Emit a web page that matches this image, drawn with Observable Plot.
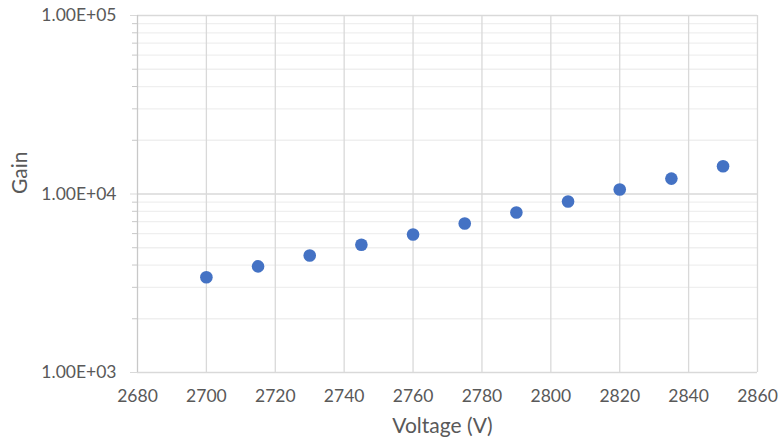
<!DOCTYPE html>
<html><head><meta charset="utf-8">
<script src="https://cdn.jsdelivr.net/npm/d3@7"></script>
<script src="https://cdn.jsdelivr.net/npm/@observablehq/plot@0.6"></script>
<style>body{margin:0;background:#fff;}</style>
</head><body><div id="chart"></div>
<script>
const voltages = [2700, 2715, 2730, 2745, 2760, 2775, 2790, 2805, 2820, 2835, 2850];
const gains = [3420, 3930, 4520, 5200, 5930, 6830, 7880, 9080, 10600, 12200, 14300];
const xTicks = [2680, 2700, 2720, 2740, 2760, 2780, 2800, 2820, 2840, 2860];
const yMajor = [1e3, 1e4, 1e5];
const yMinor = [2e3, 3e3, 4e3, 5e3, 6e3, 7e3, 8e3, 9e3, 2e4, 3e4, 4e4, 5e4, 6e4, 7e4, 8e4, 9e4];

const fmt = d => {
  const [m, e] = d.toExponential(2).split("e");
  const sign = e[0] === "-" ? "-" : "+";
  return m + "E" + sign + String(Math.abs(+e)).padStart(2, "0");
};
const data = voltages.map((v, i) => ({v, g: gains[i]}));
const textColor = "#595959";

const chart = Plot.plot({
  width: 780, height: 446,
  marginLeft: 137, marginRight: 23, marginTop: 15, marginBottom: 74,
  style: {fontFamily: "Lato, 'Open Sans', sans-serif", fontSize: "17.5px", color: textColor, background: "#fff"},
  x: {domain: [2680, 2860]},
  y: {type: "log", domain: [1e3, 1e5]},
  marks: [
    Plot.ruleY(yMinor, {stroke: "#efefef", strokeWidth: 1.3}),
    Plot.ruleX(xTicks.slice(1), {stroke: "#d9d9d9", strokeWidth: 1.3}),
    Plot.ruleY(yMajor, {stroke: "#d9d9d9", strokeWidth: 1.3}),
    Plot.ruleX([2680], {stroke: "#c8c8c8", strokeWidth: 1.3}),
    Plot.axisY({ticks: yMinor, tickSize: 5, text: null, stroke: "#c8c8c8", label: null}),
    Plot.axisY({ticks: yMajor, tickSize: 7, tickPadding: 14, tickFormat: fmt, stroke: "#d9d9d9", fill: textColor, fontSize: 17.5, label: null}),
    Plot.axisX({ticks: xTicks, tickSize: 0, tickPadding: 17, tickFormat: d => String(d), fill: textColor, fontSize: 17.5, label: null}),
    Plot.dot(data, {x: "v", y: "g", r: 6.3, fill: "#4472C4"}),
    Plot.text(["Gain"], {frameAnchor: "left", dx: -117, rotate: -90, fontSize: 21, fill: textColor}),
    Plot.text(["Voltage (V)"], {frameAnchor: "bottom", dy: 60, dx: -5, fontSize: 21, fill: textColor})
  ]
});
document.getElementById("chart").appendChild(chart);
</script>
</body></html>
